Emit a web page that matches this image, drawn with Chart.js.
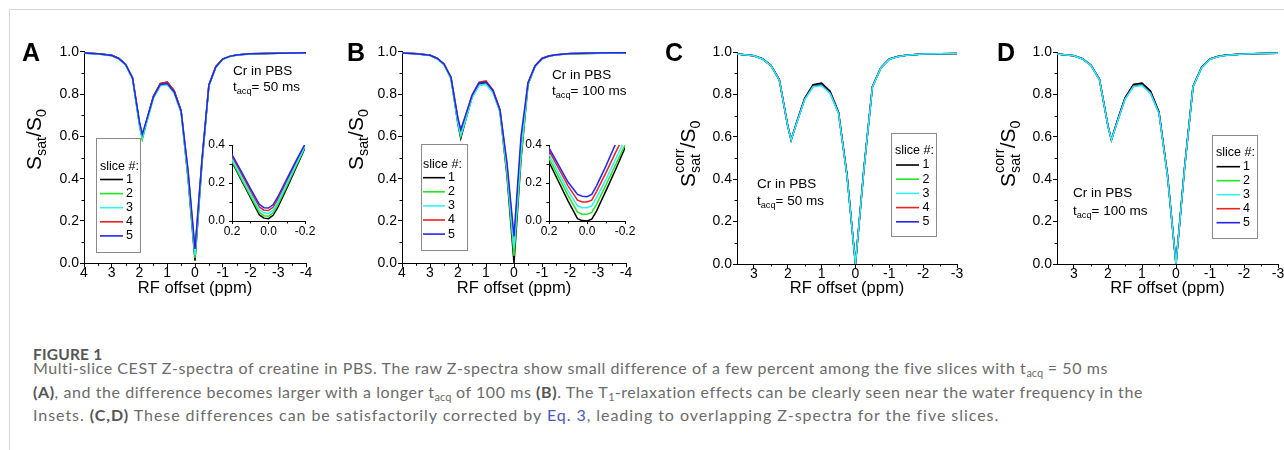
<!DOCTYPE html>
<html>
<head>
<meta charset="utf-8">
<script src="https://cdn.jsdelivr.net/npm/chart.js@4.4.1/dist/chart.umd.min.js"></script>
<style>
html, body { margin: 0; padding: 0; background: #fff; width: 1284px; height: 450px; overflow: hidden; position: relative; }
.frame { position: absolute; left: 9px; top: 9px; width: 1300px; height: 470px; border: 1px solid #d6d6d6; }
canvas { position: absolute; }
.lab { position: absolute; font: bold 25px 'Liberation Sans', Arial, sans-serif; line-height: 25px; color: #000; }
.cap { position: absolute; left: 33px; font-family: Lato, sans-serif; color: #6b6b6b; white-space: nowrap; }
.fig { top: 344px; font-size: 15.5px; font-weight: bold; color: #555; line-height: 20px; letter-spacing: 0.2px; }
.txt { top: 356px; font-size: 16px; line-height: 23.5px; letter-spacing: 0.57px; }
.txt b { color: #555; }
.txt sub { font-size: 11px; line-height: 0; vertical-align: -3px; letter-spacing: 0; }
.txt .eq { color: #4b58b8; }
.txt .l3 { letter-spacing: 0.95px; }
</style>
</head>
<body>
<div class="frame"></div>

<canvas id="cA" width="320" height="280" style="left:0px;top:30px"></canvas>
<canvas id="cB" width="320" height="280" style="left:320px;top:30px"></canvas>
<canvas id="cC" width="340" height="280" style="left:640px;top:30px"></canvas>
<canvas id="cD" width="340" height="280" style="left:960px;top:30px"></canvas>
<canvas id="iA" width="128" height="110" style="left:190px;top:135px"></canvas>
<canvas id="iB" width="133" height="110" style="left:507px;top:135px"></canvas>

<div class="lab" style="left:22px;top:40px">A</div>
<div class="lab" style="left:347px;top:40px">B</div>
<div class="lab" style="left:665px;top:40px">C</div>
<div class="lab" style="left:997px;top:40px">D</div>

<div class="cap fig">FIGURE 1</div>
<div class="cap txt">Multi-slice CEST Z-spectra of creatine in PBS. The raw Z-spectra show small difference of a few percent among the five slices with t<sub>acq</sub> = 50 ms<br><b>(A)</b>, and the difference becomes larger with a longer t<sub>acq</sub> of 100 ms <b>(B)</b>. The T<sub>1</sub>-relaxation effects can be clearly seen near the water frequency in the<br><span class="l3">Insets. <b>(C,D)</b> These differences can be satisfactorily corrected by <span class="eq">Eq. 3</span>, leading to overlapping Z-spectra for the five slices.</span></div>

<script>
// RF offsets (ppm) of the Z-spectra
const offsets = [4, 3.5, 3, 2.75, 2.5, 2.25, 2, 1.9, 1.75, 1.5, 1.25, 1, 0.75, 0.5, 0.25, 0, -0.25, -0.5, -0.75, -1, -1.25, -1.5, -2, -2.5, -3, -3.5, -4];
const insetOffsets = [0.25, 0.2, 0.15, 0.1, 0.05, 0.025, 0, -0.025, -0.05, -0.1, -0.15, -0.2, -0.25];

const sliceNames = ['1', '2', '3', '4', '5'];
const sliceColors = ['#000000', '#22e622', '#33f0f0', '#f02020', '#2424f0'];

// tick labels
const xTicksAB = [4, 3, 2, 1, 0, -1, -2, -3, -4];
const xMinorAB = [3.5, 2.5, 1.5, 0.5, -0.5, -1.5, -2.5, -3.5];
const xTicksCD = [3, 2, 1, 0, -1, -2, -3];
const xMinorCD = [2.5, 1.5, 0.5, -0.5, -1.5, -2.5];
const yTicks = [0, 0.2, 0.4, 0.6, 0.8, 1.0];
const yMinor = [0.1, 0.3, 0.5, 0.7, 0.9];
const insetXTicks = [0.2, 0, -0.2];
const insetXMinor = [0.1, -0.1];
const insetYTicks = [0, 0.2, 0.4];
const insetYMinor = [0.1, 0.3];

// A: raw, t_acq = 50 ms
const zA1 = [0.994, 0.990, 0.983, 0.968, 0.940, 0.876, 0.655, 0.590, 0.667, 0.788, 0.849, 0.856, 0.815, 0.720, 0.400, 0.012, 0.470, 0.842, 0.929, 0.965, 0.978, 0.984, 0.990, 0.992, 0.993, 0.994, 0.995];
const zA2 = [0.993, 0.989, 0.981, 0.966, 0.937, 0.871, 0.650, 0.585, 0.660, 0.780, 0.840, 0.846, 0.806, 0.712, 0.405, 0.025, 0.475, 0.838, 0.927, 0.964, 0.977, 0.984, 0.990, 0.992, 0.993, 0.994, 0.995];
const zA3 = [0.993, 0.989, 0.981, 0.966, 0.938, 0.872, 0.656, 0.595, 0.664, 0.781, 0.839, 0.844, 0.805, 0.713, 0.415, 0.040, 0.480, 0.838, 0.926, 0.963, 0.977, 0.983, 0.989, 0.991, 0.993, 0.994, 0.995];
const zA4 = [0.994, 0.990, 0.983, 0.969, 0.941, 0.877, 0.665, 0.603, 0.672, 0.789, 0.850, 0.857, 0.816, 0.722, 0.430, 0.055, 0.485, 0.843, 0.930, 0.966, 0.978, 0.985, 0.990, 0.992, 0.993, 0.994, 0.995];
const zA5 = [0.994, 0.990, 0.982, 0.968, 0.940, 0.875, 0.668, 0.610, 0.675, 0.786, 0.845, 0.850, 0.810, 0.718, 0.440, 0.068, 0.490, 0.842, 0.928, 0.965, 0.978, 0.984, 0.990, 0.992, 0.993, 0.994, 0.995];

// B: raw, t_acq = 100 ms
const zB1 = [0.994, 0.990, 0.983, 0.968, 0.940, 0.875, 0.655, 0.590, 0.665, 0.785, 0.846, 0.852, 0.812, 0.718, 0.410, 0.000, 0.490, 0.845, 0.930, 0.966, 0.979, 0.985, 0.990, 0.992, 0.993, 0.994, 0.995];
const zB2 = [0.994, 0.990, 0.982, 0.967, 0.939, 0.873, 0.660, 0.600, 0.668, 0.783, 0.843, 0.848, 0.808, 0.716, 0.425, 0.035, 0.500, 0.845, 0.930, 0.966, 0.979, 0.985, 0.990, 0.992, 0.993, 0.994, 0.995];
const zB3 = [0.994, 0.990, 0.982, 0.967, 0.939, 0.873, 0.664, 0.607, 0.671, 0.782, 0.840, 0.845, 0.806, 0.716, 0.440, 0.070, 0.530, 0.848, 0.931, 0.967, 0.979, 0.985, 0.990, 0.992, 0.993, 0.994, 0.995];
const zB4 = [0.995, 0.991, 0.984, 0.970, 0.943, 0.879, 0.680, 0.625, 0.688, 0.795, 0.856, 0.862, 0.820, 0.727, 0.460, 0.100, 0.560, 0.852, 0.934, 0.969, 0.981, 0.986, 0.991, 0.993, 0.994, 0.995, 0.995];
const zB5 = [0.994, 0.990, 0.983, 0.969, 0.942, 0.878, 0.684, 0.632, 0.692, 0.793, 0.852, 0.857, 0.816, 0.724, 0.475, 0.128, 0.600, 0.853, 0.933, 0.968, 0.980, 0.986, 0.991, 0.993, 0.994, 0.995, 0.995];

// C: corrected, t_acq = 50 ms
const zC1 = [0.995, 0.991, 0.982, 0.968, 0.937, 0.870, 0.650, 0.585, 0.662, 0.782, 0.846, 0.853, 0.815, 0.716, 0.420, 0.000, 0.450, 0.836, 0.926, 0.967, 0.979, 0.985, 0.990, 0.992, 0.993, 0.994, 0.994];
const zC2 = [0.995, 0.991, 0.982, 0.968, 0.937, 0.869, 0.650, 0.585, 0.660, 0.780, 0.842, 0.848, 0.810, 0.713, 0.418, 0.000, 0.448, 0.835, 0.925, 0.966, 0.979, 0.985, 0.990, 0.992, 0.993, 0.994, 0.994];
const zC3 = [0.995, 0.991, 0.982, 0.967, 0.936, 0.868, 0.649, 0.585, 0.658, 0.776, 0.836, 0.841, 0.804, 0.710, 0.415, 0.000, 0.446, 0.834, 0.925, 0.966, 0.978, 0.985, 0.990, 0.992, 0.993, 0.994, 0.994];
const zC4 = [0.995, 0.991, 0.982, 0.968, 0.937, 0.870, 0.651, 0.586, 0.662, 0.781, 0.845, 0.851, 0.813, 0.715, 0.420, 0.000, 0.450, 0.836, 0.926, 0.967, 0.979, 0.985, 0.990, 0.992, 0.993, 0.994, 0.994];
const zC5 = [0.995, 0.991, 0.982, 0.967, 0.936, 0.869, 0.650, 0.585, 0.660, 0.778, 0.839, 0.844, 0.807, 0.712, 0.417, 0.000, 0.447, 0.835, 0.925, 0.966, 0.978, 0.985, 0.990, 0.992, 0.993, 0.994, 0.994];

// D: corrected, t_acq = 100 ms
const zD1 = [0.995, 0.991, 0.982, 0.968, 0.938, 0.871, 0.650, 0.585, 0.664, 0.784, 0.847, 0.853, 0.816, 0.717, 0.420, 0.000, 0.452, 0.838, 0.927, 0.967, 0.980, 0.986, 0.991, 0.993, 0.994, 0.995, 0.995];
const zD2 = [0.995, 0.991, 0.982, 0.968, 0.937, 0.870, 0.650, 0.585, 0.661, 0.781, 0.843, 0.849, 0.811, 0.714, 0.418, 0.000, 0.450, 0.836, 0.926, 0.967, 0.979, 0.986, 0.991, 0.993, 0.994, 0.995, 0.995];
const zD3 = [0.995, 0.991, 0.982, 0.967, 0.936, 0.869, 0.649, 0.585, 0.658, 0.777, 0.837, 0.842, 0.805, 0.710, 0.415, 0.000, 0.447, 0.835, 0.925, 0.966, 0.979, 0.985, 0.991, 0.993, 0.994, 0.995, 0.995];
const zD4 = [0.995, 0.991, 0.982, 0.968, 0.938, 0.871, 0.651, 0.586, 0.663, 0.783, 0.846, 0.852, 0.814, 0.716, 0.420, 0.000, 0.451, 0.837, 0.927, 0.967, 0.980, 0.986, 0.991, 0.993, 0.994, 0.995, 0.995];
const zD5 = [0.995, 0.991, 0.982, 0.967, 0.937, 0.869, 0.650, 0.585, 0.659, 0.778, 0.839, 0.844, 0.807, 0.711, 0.416, 0.000, 0.448, 0.835, 0.925, 0.966, 0.979, 0.985, 0.991, 0.993, 0.994, 0.995, 0.995];

// insets (near water frequency)
const inA1 = [0.400, 0.310, 0.218, 0.125, 0.032, 0.015, 0.012, 0.030, 0.070, 0.172, 0.278, 0.385, 0.470];
const inA2 = [0.405, 0.315, 0.224, 0.133, 0.045, 0.028, 0.025, 0.043, 0.083, 0.183, 0.287, 0.390, 0.475];
const inA3 = [0.415, 0.325, 0.235, 0.146, 0.060, 0.043, 0.040, 0.057, 0.097, 0.195, 0.295, 0.395, 0.480];
const inA4 = [0.430, 0.340, 0.250, 0.160, 0.074, 0.057, 0.055, 0.072, 0.112, 0.208, 0.305, 0.400, 0.485];
const inA5 = [0.440, 0.350, 0.262, 0.173, 0.088, 0.070, 0.068, 0.085, 0.125, 0.220, 0.315, 0.405, 0.490];

const inB1 = [0.410, 0.310, 0.208, 0.106, 0.012, 0.002, 0.000, 0.010, 0.052, 0.160, 0.270, 0.385, 0.490];
const inB2 = [0.425, 0.330, 0.232, 0.135, 0.047, 0.036, 0.035, 0.045, 0.088, 0.190, 0.295, 0.400, 0.500];
const inB3 = [0.440, 0.350, 0.255, 0.160, 0.080, 0.070, 0.070, 0.080, 0.123, 0.220, 0.325, 0.430, 0.530];
const inB4 = [0.460, 0.370, 0.278, 0.185, 0.110, 0.100, 0.100, 0.110, 0.155, 0.255, 0.360, 0.460, 0.560];
const inB5 = [0.475, 0.385, 0.295, 0.205, 0.140, 0.130, 0.128, 0.140, 0.185, 0.290, 0.405, 0.500, 0.600];

const FONT = "'Liberation Sans', Arial, sans-serif";
Chart.defaults.font.family = FONT;
Chart.defaults.color = '#000';

// text parts: s = 'b' subscript, 'p' superscript; stack = draw over previous part
function drawRich(ctx, parts, x, y, size) {
  let cx = x, prevX = x, prev = 0;
  parts.forEach(p => {
    const fs = Math.round((p.s ? size * 0.68 : size) * 10) / 10;
    ctx.font = fs + 'px ' + FONT;
    const pw = ctx.measureText(p.t).width;
    const dy = p.s === 'b' ? size * 0.32 : (p.s === 'p' ? -size * 0.42 : 0);
    const px = p.stack ? prevX : cx;
    ctx.fillText(p.t, px, y + dy);
    if (p.stack) { cx = prevX + Math.max(prev, pw); prev = Math.max(prev, pw); }
    else { prevX = cx; cx += pw; prev = pw; }
  });
  return cx - x;
}

const decorCfg = {};
const decor = {
  id: 'decor',
  afterDraw(chart) {
    const o = decorCfg[chart.canvas.id];
    if (!o) return;
    const ctx = chart.ctx;
    const {left, right, top, bottom} = chart.chartArea;
    const xs = chart.scales.x, ys = chart.scales.y;
    ctx.save();
    ctx.strokeStyle = '#000';
    ctx.lineWidth = 1;
    // minor ticks
    o.minorX.forEach(v => {
      const p = Math.round(xs.getPixelForValue(v)) + 0.5;
      ctx.beginPath(); ctx.moveTo(p, bottom); ctx.lineTo(p, bottom + 2.5); ctx.stroke();
    });
    o.minorY.forEach(v => {
      const p = Math.round(ys.getPixelForValue(v)) + 0.5;
      ctx.beginPath(); ctx.moveTo(left, p); ctx.lineTo(left - 2.5, p); ctx.stroke();
    });
    ctx.fillStyle = '#000';
    ctx.textBaseline = 'middle';
    // axis titles
    if (o.xTitle) {
      ctx.font = '16.5px ' + FONT;
      ctx.textAlign = 'center';
      ctx.fillText(o.xTitle, (left + right) / 2, o.xTitleY);
    }
    if (o.yTitle) {
      // rotated title, anchored at its first letter (bottom end)
      ctx.textAlign = 'left';
      ctx.save();
      ctx.translate(o.yTitleX, o.yTitleY);
      ctx.rotate(-Math.PI / 2);
      drawRich(ctx, o.yTitle, 0, 0, 21);
      ctx.restore();
    }
    // sample notes
    if (o.note) {
      ctx.textAlign = 'left';
      drawRich(ctx, [{t: 'Cr in PBS'}], o.note.x, o.note.y1, 13.5);
      drawRich(ctx, [{t: 't'}, {t: 'acq', s: 'b'}, {t: '= ' + o.note.tacq + ' ms'}], o.note.x, o.note.y2, 13.5);
    }
    // legend box
    if (o.legend) {
      const L = o.legend;
      ctx.strokeStyle = '#8a8a8a';
      ctx.strokeRect(Math.round(L.x) + 0.5, Math.round(L.y) + 0.5, L.w, L.h);
      ctx.font = '12.5px ' + FONT;
      ctx.textAlign = 'left';
      ctx.fillStyle = '#000';
      ctx.fillText('slice #:', L.hx, L.hy);
      chart.data.datasets.forEach((ds, i) => {
        const y = L.ry + i * L.step;
        ctx.strokeStyle = ds.borderColor;
        ctx.lineWidth = 1.6;
        ctx.beginPath(); ctx.moveTo(L.l0, y); ctx.lineTo(L.l1, y); ctx.stroke();
        ctx.fillText(ds.label, L.nx, y);
      });
    }
    ctx.restore();
  }
};
Chart.register(decor);

function sets(xs, rows, order) {
  return rows.map((r, i) => ({
    label: sliceNames[i],
    data: xs.map((x, j) => ({x: x, y: r[j]})),
    borderColor: sliceColors[i],
    backgroundColor: sliceColors[i],
    borderWidth: 1.5,
    pointRadius: 0,
    fill: false,
    tension: 0,
    order: order[i]
  }));
}

function scaleOpts(kind, min, max, ticks, fmt, size, fit, tl, pad, reverse) {
  return {
    type: 'linear', min: min, max: max, reverse: !!reverse,
    afterBuildTicks: ax => { ax.ticks = ticks.map(v => ({value: v})); },
    afterFit: ax => { if (kind === 'x') ax.height = fit; else ax.width = fit; },
    grid: {drawOnChartArea: false, drawTicks: true, tickLength: tl, color: '#000', lineWidth: 1},
    border: {display: true, color: '#000', width: 1},
    ticks: {color: '#000', font: {family: FONT, size: size, lineHeight: 1}, padding: pad, maxRotation: 0, autoSkip: false, callback: fmt}
  };
}

function makeChart(id, xs, rows, order, x, y, pad) {
  new Chart(document.getElementById(id), {
    type: 'line',
    data: {datasets: sets(xs, rows, order)},
    options: {
      responsive: false,
      maintainAspectRatio: false,
      animation: false,
      devicePixelRatio: 1,
      layout: {padding: pad},
      plugins: {legend: {display: false}, tooltip: {enabled: false}},
      scales: {x: x, y: y}
    }
  });
}

const fmtInt = v => String(v);
const fmt1 = v => Number(v).toFixed(1);
const ySat = [{t: 'S'}, {t: 'sat', s: 'b'}, {t: '/S'}, {t: '0', s: 'b'}];
const yCorr = [{t: 'S'}, {t: 'sat', s: 'b'}, {t: 'corr', s: 'p', stack: true}, {t: '/S'}, {t: '0', s: 'b'}];

decorCfg.cA = {minorX: xMinorAB, minorY: yMinor, xTitle: 'RF offset (ppm)', xTitleY: 258, yTitle: ySat, yTitleX: 35, yTitleY: 140,
  note: {x: 233, y1: 41.7, y2: 57, tacq: '50'},
  legend: {x: 96, y: 108, w: 44, h: 114, hx: 100, hy: 136.7, ry: 149.5, step: 14.1, l0: 100, l1: 123, nx: 126}};
decorCfg.cB = {minorX: xMinorAB, minorY: yMinor, xTitle: 'RF offset (ppm)', xTitleY: 258, yTitle: ySat, yTitleX: 37, yTitleY: 140,
  note: {x: 232, y1: 45, y2: 61.5, tacq: '100'},
  legend: {x: 101, y: 114, w: 46, h: 106, hx: 103, hy: 135, ry: 147.7, step: 14.1, l0: 103, l1: 125, nx: 128}};
decorCfg.cC = {minorX: xMinorCD, minorY: yMinor, xTitle: 'RF offset (ppm)', xTitleY: 258, yTitle: yCorr, yTitleX: 49, yTitleY: 157,
  note: {x: 117, y1: 154, y2: 171.5, tacq: '50'},
  legend: {x: 251, y: 103, w: 45, h: 103, hx: 255, hy: 120.7, ry: 135, step: 14.2, l0: 256, l1: 279, nx: 282.5}};
decorCfg.cD = {minorX: xMinorCD, minorY: yMinor, xTitle: 'RF offset (ppm)', xTitleY: 258, yTitle: yCorr, yTitleX: 49, yTitleY: 157,
  note: {x: 113, y1: 163.3, y2: 181.5, tacq: '100'},
  legend: {x: 252, y: 105, w: 45, h: 103, hx: 256, hy: 122.7, ry: 136.7, step: 14, l0: 256.5, l1: 280, nx: 283}};
decorCfg.iA = {minorX: insetXMinor, minorY: insetYMinor};
decorCfg.iB = {minorX: insetXMinor, minorY: insetYMinor};

const orderAB = [4, 3, 1, 2, 0];
const orderCD = [2, 3, 0, 4, 1];

makeChart('cA', offsets, [zA1, zA2, zA3, zA4, zA5], orderAB,
  scaleOpts('x', -4, 4, xTicksAB, fmtInt, 14, 46.7, 4, -1, true),
  scaleOpts('y', 0, 1, yTicks, fmt1, 14, 84, 4, 1),
  {left: 0, top: 21.7, right: 14, bottom: 0});
makeChart('cB', offsets, [zB1, zB2, zB3, zB4, zB5], orderAB,
  scaleOpts('x', -4, 4, xTicksAB, fmtInt, 14, 46.7, 4, -1, true),
  scaleOpts('y', 0, 1, yTicks, fmt1, 14, 82, 4, 1),
  {left: 0, top: 21.7, right: 14, bottom: 0});
makeChart('cC', offsets, [zC1, zC2, zC3, zC4, zC5], orderCD,
  scaleOpts('x', -3, 3.5, xTicksCD, fmtInt, 14, 46, 4, -1, true),
  scaleOpts('y', 0, 1, yTicks, fmt1, 14, 97, 4, 1),
  {left: 0, top: 22, right: 23, bottom: 0});
makeChart('cD', offsets, [zD1, zD2, zD3, zD4, zD5], orderCD,
  scaleOpts('x', -3, 3.5, xTicksCD, fmtInt, 14, 46, 4, -1, true),
  scaleOpts('y', 0, 1, yTicks, fmt1, 14, 97, 4, 1),
  {left: 0, top: 22, right: 22, bottom: 0});
makeChart('iA', insetOffsets, [inA1, inA2, inA3, inA4, inA5], orderAB,
  scaleOpts('x', -0.2, 0.2, insetXTicks, fmt1, 12, 24, 3, 2, true),
  scaleOpts('y', 0, 0.4, insetYTicks, fmt1, 12, 42, 3, 4),
  {left: 0, top: 10, right: 13, bottom: 0});
makeChart('iB', insetOffsets, [inB1, inB2, inB3, inB4, inB5], orderAB,
  scaleOpts('x', -0.2, 0.2, insetXTicks, fmt1, 12, 24, 3, 2, true),
  scaleOpts('y', 0, 0.4, insetYTicks, fmt1, 12, 42, 3, 4),
  {left: 0, top: 10, right: 15, bottom: 0});
</script>
</body>
</html>
